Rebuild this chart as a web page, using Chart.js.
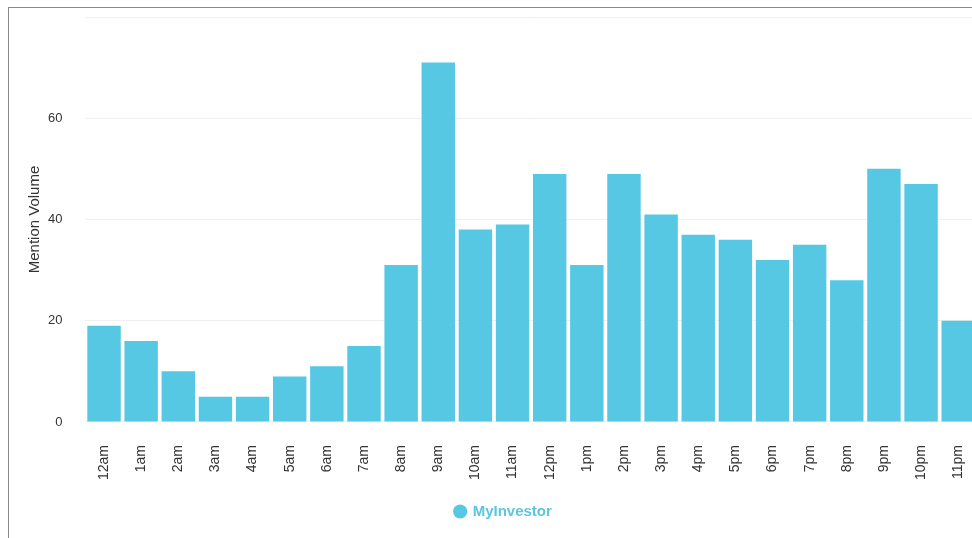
<!DOCTYPE html>
<html>
<head>
<meta charset="utf-8">
<script src="https://cdn.jsdelivr.net/npm/chart.js@4/dist/chart.umd.min.js"></script>
<style>
  html, body { margin: 0; padding: 0; background: #fff; overflow: hidden; }
  #frame { position: absolute; left: 8px; top: 7px; width: 990px; height: 540px;
           border-left: 1px solid #8a8a8a; border-top: 1px solid #8a8a8a; background: #fff; }
  #wrap { position: absolute; left: 0; top: 0; width: 972px; height: 531px; }
</style>
</head>
<body>
<div id="frame"><div id="wrap"><canvas id="c"></canvas></div></div>
<script>
const categories = ['12am','1am','2am','3am','4am','5am','6am','7am','8am','9am','10am','11am',
                    '12pm','1pm','2pm','3pm','4pm','5pm','6pm','7pm','8pm','9pm','10pm','11pm'];
const mentionVolume = [19,16,10,5,5,9,11,15,31,71,38,39,49,31,49,41,37,36,32,35,28,50,47,20];
const yTicks = [0,20,40,60];
const yMax = 80;
const seriesName = 'MyInvestor';

const barColor = '#56C8E3';
const FONT = 'Liberation Sans, Arial, sans-serif';

new Chart(document.getElementById('c'), {
  type: 'bar',
  data: {
    labels: categories,
    datasets: [{
      label: seriesName,
      data: mentionVolume,
      backgroundColor: barColor,
      borderWidth: 0,
      barPercentage: 0.9,
      categoryPercentage: 1.0
    }]
  },
  options: {
    responsive: true,
    maintainAspectRatio: false,
    animation: false,
    layout: { padding: { left: 17, right: 0, top: 9, bottom: 10 } },
    plugins: {
      tooltip: { enabled: false },
      legend: {
        position: 'bottom',
        labels: {
          usePointStyle: true,
          pointStyle: 'circle',
          boxWidth: 10,
          boxHeight: 10,
          color: '#5BC6E0',
          font: { family: FONT, size: 15, weight: 'bold' },
          padding: 18
        }
      }
    },
    scales: {
      x: {
        grid: { display: true, color: 'transparent', tickColor: 'transparent', drawTicks: true, tickLength: 17 },
        border: { display: false },
        ticks: {
          color: '#333',
          font: { family: FONT, size: 14 },
          maxRotation: 90, minRotation: 90,
          padding: 6
        }
      },
      y: {
        min: 0, max: yMax,
        afterBuildTicks: (axis) => { axis.ticks = yTicks.concat([yMax]).map(v => ({ value: v })); },
        grid: { color: '#f0f0f0', tickColor: 'transparent', drawTicks: true, tickLength: 21 },
        border: { display: false },
        ticks: {
          color: '#333',
          font: (ctx) => ({ family: FONT, size: (ctx.tick && ctx.tick.value === yMax) ? 1 : 13 }),
          padding: 2,
          callback: (v) => yTicks.includes(v) ? String(v) : ''
        },
        title: {
          display: true,
          text: 'Mention Volume',
          color: '#333',
          font: { family: FONT, size: 15 },
          padding: { top: 0, bottom: 2 }
        }
      }
    }
  }
});
</script>
</body>
</html>
